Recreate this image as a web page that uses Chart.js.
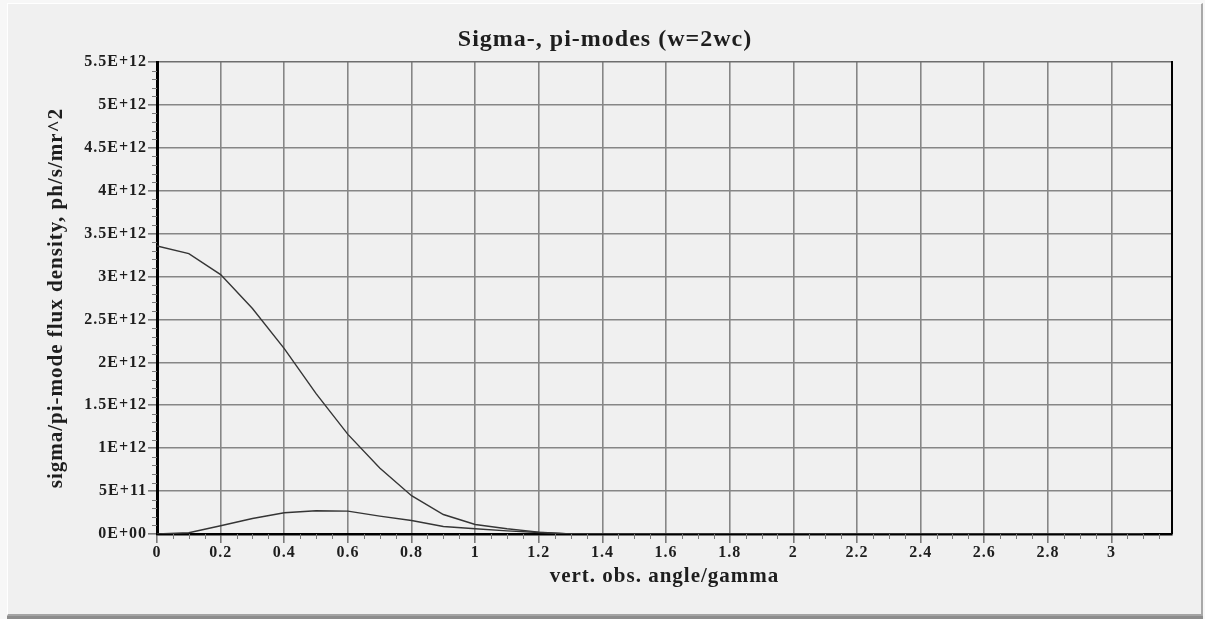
<!DOCTYPE html>
<html>
<head>
<meta charset="utf-8">
<script src="https://cdn.jsdelivr.net/npm/chart.js@4/dist/chart.umd.min.js"></script>
<style>
  html, body { margin: 0; padding: 0; background: #f7f7f7; }
  #wrap { position: absolute; left: 0; top: 0; width: 1205px; height: 619px; }
  #frame {
    position: absolute; left: 7px; top: 3px; width: 1193px; height: 610px;
    background: #f0f0f0;
    border-top: 1px solid #ffffff; border-left: 1px solid #ffffff;
    border-right: 2px solid #a8a8a8; border-bottom: 2px solid #a4a4a4;
    box-shadow: 0 3px 0 0 #8c8c8c;
  }
  #chart { position: absolute; left: 0; top: 0; }
</style>
</head>
<body>
<div id="wrap">
  <div id="frame"></div>
  <canvas id="chart" width="1205" height="619"></canvas>
</div>
<script>
// vertical observation angle / gamma
const angles = [0, 0.1, 0.2, 0.3, 0.4, 0.5, 0.6, 0.7, 0.8, 0.9, 1.0, 1.1, 1.2, 1.3, 1.4, 1.5,
  1.6, 1.7, 1.8, 1.9, 2.0, 2.1, 2.2, 2.3, 2.4, 2.5, 2.6, 2.7, 2.8, 2.9, 3.0, 3.1];

// flux density, ph/s/mr^2
const sigmaMode = [3.357e12, 3.268e12, 3.023e12, 2.627e12, 2.160e12, 1.635e12, 1.161e12, 0.768e12,
  0.446e12, 0.227e12, 0.111e12, 0.061e12, 0.022e12, 0, 0, 0,
  0, 0, 0, 0, 0, 0, 0, 0, 0, 0, 0, 0, 0, 0, 0, 0];
const piMode = [0, 0.015e12, 0.096e12, 0.181e12, 0.247e12, 0.271e12, 0.266e12, 0.208e12,
  0.157e12, 0.087e12, 0.061e12, 0.037e12, 0.018e12, 0, 0, 0,
  0, 0, 0, 0, 0, 0, 0, 0, 0, 0, 0, 0, 0, 0, 0, 0];

const xTickValues = [0, 0.2, 0.4, 0.6, 0.8, 1, 1.2, 1.4, 1.6, 1.8, 2, 2.2, 2.4, 2.6, 2.8, 3];
const xTickLabels = ["0", "0.2", "0.4", "0.6", "0.8", "1", "1.2", "1.4", "1.6", "1.8", "2",
  "2.2", "2.4", "2.6", "2.8", "3"];
const yTickValues = [0, 0.5e12, 1e12, 1.5e12, 2e12, 2.5e12, 3e12, 3.5e12, 4e12, 4.5e12, 5e12, 5.5e12];
const yTickLabels = ["0E+00", "5E+11", "1E+12", "1.5E+12", "2E+12", "2.5E+12", "3E+12",
  "3.5E+12", "4E+12", "4.5E+12", "5E+12", "5.5E+12"];

const xMax = 3.19;
const yMax = 5.5e12;
const xMinorStep = 0.05;
const yMinorStep = 0.1e12;

const serif = "'Liberation Serif', 'DejaVu Serif', serif";
const inkColor = "#1e1e1e";
const gridColor = "#868686";

// letter spacing for all canvas text (canvas resets it on resize)
const spacingPlugin = {
  id: "spacing",
  beforeLayout(chart) { chart.ctx.letterSpacing = "1px"; },
  beforeDraw(chart) { chart.ctx.letterSpacing = "1px"; }
};

// minor tick marks and the black right-hand frame
const minorTicks = {
  id: "minorTicks",
  afterDraw(chart) {
    const { ctx, chartArea } = chart;
    const xs = chart.scales.x;
    const ys = chart.scales.y;
    ctx.save();
    ctx.strokeStyle = "#7a7a7a";
    ctx.lineWidth = 1;
    ctx.beginPath();
    for (let i = 1; i * xMinorStep < xMax; i++) {
      if (i % 4 === 0) continue;
      const px = Math.round(xs.getPixelForValue(i * xMinorStep)) + 0.5;
      ctx.moveTo(px, chartArea.bottom);
      ctx.lineTo(px, chartArea.bottom + 5);
    }
    for (let i = 1; i * yMinorStep < yMax; i++) {
      if (i % 5 === 0) continue;
      const py = Math.round(ys.getPixelForValue(i * yMinorStep)) + 0.5;
      ctx.moveTo(chartArea.left - 5, py);
      ctx.lineTo(chartArea.left, py);
    }
    ctx.stroke();

    ctx.strokeStyle = "#000";
    ctx.lineWidth = 2;
    ctx.beginPath();
    ctx.moveTo(chartArea.right, chartArea.top - 1);
    ctx.lineTo(chartArea.right, chartArea.bottom);
    ctx.stroke();
    ctx.restore();
  }
};

new Chart(document.getElementById("chart"), {
  type: "line",
  data: {
    datasets: [
      {
        label: "sigma-mode",
        data: angles.map((a, i) => ({ x: a, y: sigmaMode[i] })),
        borderColor: "#353535",
        borderWidth: 1.4,
        pointRadius: 0,
        tension: 0,
        fill: false
      },
      {
        label: "pi-mode",
        data: angles.map((a, i) => ({ x: a, y: piMode[i] })),
        borderColor: "#353535",
        borderWidth: 1.4,
        pointRadius: 0,
        tension: 0,
        fill: false
      }
    ]
  },
  options: {
    responsive: false,
    animation: false,
    devicePixelRatio: 1,
    layout: { padding: { left: 38, right: 33, top: 0, bottom: 0 } },
    plugins: {
      legend: { display: false },
      tooltip: { enabled: false },
      title: {
        display: true,
        text: "Sigma-, pi-modes (w=2wc)",
        color: inkColor,
        font: { family: serif, size: 24, weight: "bold" },
        padding: { top: 25.6, bottom: 7.6 }
      }
    },
    scales: {
      x: {
        type: "linear",
        min: 0,
        max: xMax,
        afterBuildTicks: (scale) => { scale.ticks = xTickValues.map(v => ({ value: v })); },
        afterFit: (scale) => { scale.height = 85; },
        ticks: {
          autoSkip: false,
          maxRotation: 0,
          padding: 0,
          color: inkColor,
          font: { family: serif, size: 16, weight: "bold" },
          callback: (v, i) => xTickLabels[i]
        },
        grid: { color: gridColor, lineWidth: 1.6, tickLength: 9, tickColor: "#7a7a7a" },
        border: { color: "#000", width: 2.5 },
        title: {
          display: true,
          text: "vert. obs. angle/gamma",
          color: inkColor,
          font: { family: serif, size: 21, weight: "bold" },
          padding: { top: 0, bottom: 29.4 }
        }
      },
      y: {
        type: "linear",
        min: 0,
        max: yMax,
        afterBuildTicks: (scale) => { scale.ticks = yTickValues.map(v => ({ value: v })); },
        afterFit: (scale) => { scale.width = 119; },
        ticks: {
          padding: 1,
          color: inkColor,
          font: { family: serif, size: 16, weight: "bold" },
          callback: (v, i) => yTickLabels[i]
        },
        grid: {
          color: (c) => (c.tick && c.tick.value === yMax ? "#6e6e6e" : gridColor),
          lineWidth: 1.6, tickLength: 9, tickColor: "#7a7a7a"
        },
        border: { color: "#000", width: 3 },
        title: {
          display: true,
          text: "sigma/pi-mode flux density, ph/s/mr^2",
          color: inkColor,
          font: { family: serif, size: 21, weight: "bold" },
          padding: { top: 6.4, bottom: 0 }
        }
      }
    }
  },
  plugins: [spacingPlugin, minorTicks]
});
</script>
</body>
</html>
